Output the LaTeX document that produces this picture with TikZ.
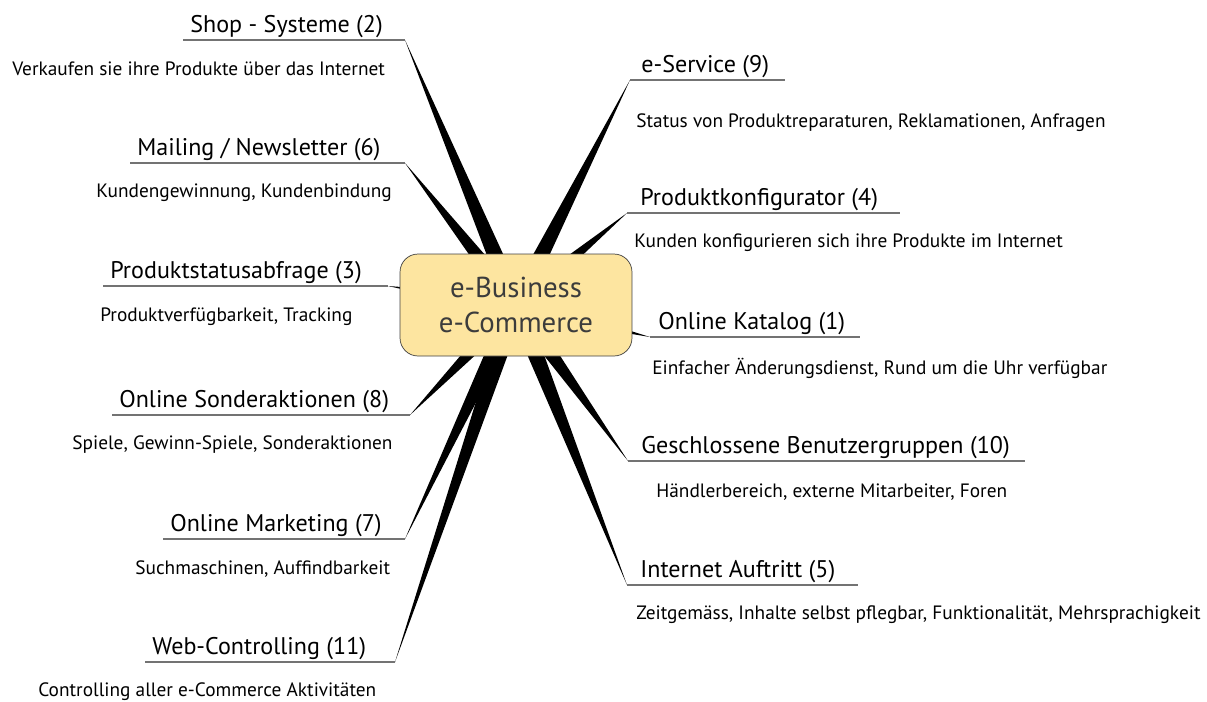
\documentclass[tikz,border=0pt]{standalone}
\usepackage{fontspec}
\setmainfont{PT Sans}
\usetikzlibrary{calc}
\definecolor{corefill}{RGB}{253,229,160}
\definecolor{coretext}{RGB}{60,60,60}
\tikzset{
	core/.style={draw=black!75,fill=corefill,rounded corners=0.36cm,minimum width=4.64cm,minimum height=2.04cm,align=center,text=coretext,font=\fontsize{16.4}{20}\selectfont},%
	spoke/.style={fill=black},%
	underline/.style={draw=black!55,line width=0.7pt},%
	heading/.style={font=\fontsize{13.7}{16}\selectfont,inner sep=0pt,anchor=base west},%
	detail/.style={font=\fontsize{11}{13}\selectfont,inner sep=0pt,anchor=base west},%
}

\begin{document}
\begin{tikzpicture}[x=0.02cm,y=-0.02cm]
	\useasboundingbox (0,0) rectangle (1207,701);
	\coordinate (hub) at (516,305);
	% Branches: name/line y/tip x/end x/heading x/detail x/detail y/heading/detail
	\foreach \nm/\yy/\ta/\tb/\hx/\dx/\dy/\head/\desc in {
		shop/40/405/183/190/12/75/{Shop - Systeme (2)}/{Verkaufen sie ihre Produkte über das Internet},
		mail/163/405/130/137/96/197/{Mailing / Newsletter (6)}/{Kundengewinnung, Kundenbindung},
		status/286/388/103/110/100/321/{Produktstatusabfrage (3)}/{Produktverfügbarkeit, Tracking},
		promo/415/410/112/119/72/449/{Online Sonderaktionen (8)}/{Spiele, Gewinn-Spiele, Sonderaktionen},
		marketing/539/405/163/170/135/574/{Online Marketing (7)}/{Suchmaschinen, Auffindbarkeit},
		control/662/395/145/152/38/696/{Web-Controlling (11)}/{Controlling aller e-Commerce Aktivitäten},
		service/80/630/785/641/636/127/{e-Service (9)}/{Status von Produktreparaturen, Reklamationen, Anfragen},
		config/213/627/900/640/634/247/{Produktkonfigurator (4)}/{Kunden konfigurieren sich ihre Produkte im Internet},
		catalog/337/650/860/658/652/374/{Online Katalog (1)}/{Einfacher Änderungsdienst, Rund um die Uhr verfügbar},
		groups/461/628/1025/641/656/497/{Geschlossene Benutzergruppen (10)}/{Händlerbereich, externe Mitarbeiter, Foren},
		web/585/627/858/640/636/619/{Internet Auftritt (5)}/{Zeitgemäss, Inhalte selbst pflegbar, Funktionalität, Mehrsprachigkeit}%
	}{
		\coordinate (\nm-tip) at (\ta,\yy);
		\coordinate (\nm-end) at (\tb,\yy);
		\fill[spoke] (\nm-tip) -- ($(hub)!0.19cm!90:(\nm-tip)$) -- ($(hub)!0.19cm!-90:(\nm-tip)$) -- cycle;
		\draw[underline] (\nm-tip) -- (\nm-end);
		\node[heading] (\nm-head) at (\hx,\yy-8) {\head};
		\node[detail] (\nm-desc) at (\dx,\dy) {\desc};
	}
	\node[core] (core) at (hub) {e-Business\\e-Commerce};
\end{tikzpicture}
\end{document}
